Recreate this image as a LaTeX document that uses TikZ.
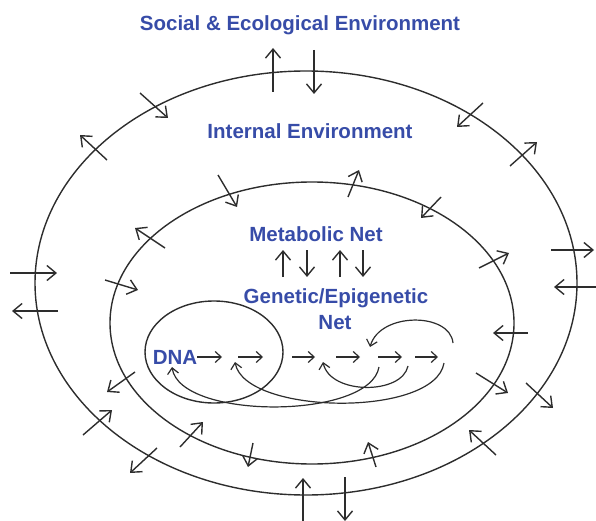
\documentclass[tikz,border=0pt]{standalone}
\usepackage{fontspec}
\setmainfont{Liberation Sans}
\usetikzlibrary{arrows.meta}
\definecolor{netblue}{RGB}{55,76,168}
\definecolor{inkgray}{RGB}{45,45,45}

\begin{document}
\begin{tikzpicture}[x=1pt,y=-1pt,
    lbl/.style={text=netblue,font=\fontsize{20.5}{22}\selectfont\bfseries,inner sep=0pt},
    ring/.style={draw=inkgray,line width=1.4pt},
    pass/.style={draw=inkgray,line width=1.4pt,-{Straight Barb[length=9pt,width=15pt]}},
    link/.style={draw=inkgray,line width=1.2pt,-{Straight Barb[length=6pt,width=11pt]}}]
    \useasboundingbox (0,0) rectangle (596,521);
    \draw[ring] (306,283) ellipse (271 and 212);
    \draw[ring] (312,323) ellipse (202 and 141);
    \draw[ring] (214,352) ellipse (69 and 51);
    \node[lbl] (social) at (300,25) {Social \& Ecological Environment};
    \node[lbl] (internal) at (310,131) {Internal Environment};
    \node[lbl] (metabolic) at (316,234) {Metabolic Net};
    \node[lbl] (genetic) at (336,298) {Genetic/Epigenetic};
    \node[lbl] (net) at (335,323) {Net};
    \node[lbl] (dna) at (175,357) {DNA};
    \draw[pass] (273,92) -- (273,48);
    \draw[pass] (314,50) -- (314,94);
    \draw[pass] (140,93) -- (168,118);
    \draw[pass] (107,160) -- (80,135);
    \draw[pass] (483,103) -- (457,127);
    \draw[pass] (510,166) -- (537,142);
    \draw[pass] (10,273) -- (57,273);
    \draw[pass] (58,311) -- (12,311);
    \draw[pass] (551,250) -- (594,250);
    \draw[pass] (597,287) -- (554,287);
    \draw[pass] (83,435) -- (112,410);
    \draw[pass] (157,448) -- (130,473);
    \draw[pass] (303,521) -- (303,478);
    \draw[pass] (345,477) -- (345,521);
    \draw[pass] (496,455) -- (469,430);
    \draw[pass] (526,383) -- (553,408);
    \draw[pass] (218,175) -- (237,207);
    \draw[pass] (348,197) -- (359,170);
    \draw[pass] (441,197) -- (421,218);
    \draw[pass] (165,248) -- (135,228);
    \draw[pass] (105,280) -- (138,290);
    \draw[pass] (479,268) -- (509,253);
    \draw[pass] (528,333) -- (493,333);
    \draw[pass] (135,372) -- (107,392);
    \draw[pass] (180,447) -- (203,422);
    \draw[pass] (253,443) -- (248,467);
    \draw[pass] (376,467) -- (368,442);
    \draw[pass] (476,373) -- (508,393);
    \foreach \xx in {283,340}
        \draw[pass] (\xx,277) -- (\xx,250);
    \foreach \xx in {307,363}
        \draw[pass] (\xx,250) -- (\xx,277);
    \draw[link] (dna.east) -- (222,357);
    \foreach \a/\b in {238/263,292/315,336/360,378/402,415/438}
        \draw[link] (\a,357) -- (\b,357);
    \draw[link] (453,343) .. controls (450,312) and (380,312) .. (370,347);
    \draw[link] (408,366) .. controls (402,395) and (330,395) .. (323,362);
    \draw[link] (379,367) .. controls (370,420) and (180,420) .. (172,367);
    \draw[link] (444,363) .. controls (435,418) and (245,415) .. (235,362);
\end{tikzpicture}
\end{document}
